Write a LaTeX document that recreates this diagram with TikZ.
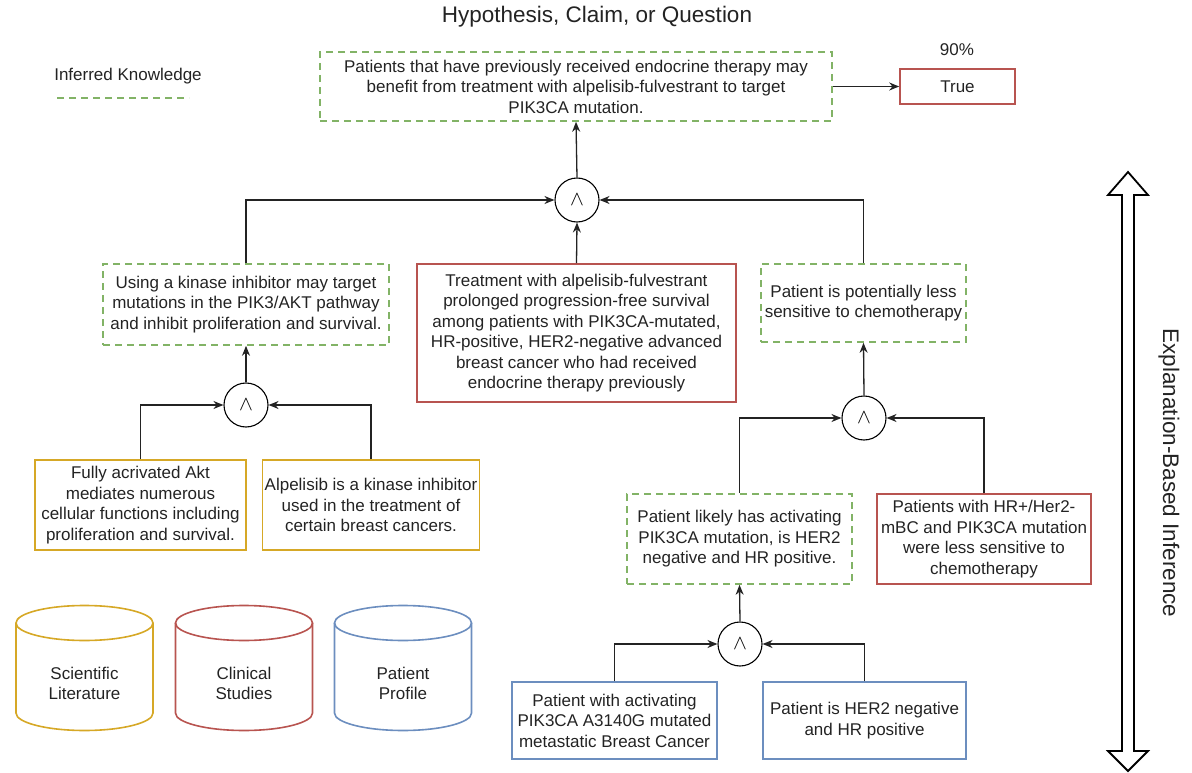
\documentclass[tikz,border=0pt]{standalone}
\usepackage{fontspec}
\setmainfont{Liberation Sans}
\usepackage{tikz}
\usetikzlibrary{arrows.meta}

\definecolor{kgreen}{RGB}{130,179,102}
\definecolor{kred}{RGB}{184,84,80}
\definecolor{kyellow}{RGB}{214,168,38}
\definecolor{kblue}{RGB}{108,142,191}
\definecolor{ktext}{RGB}{35,35,35}

\begin{document}
\begin{tikzpicture}[x=1pt, y=-1pt,
    box/.style={draw, line width=1.6pt, align=center, inner sep=2pt, text=ktext,
        font=\fontsize{17}{20.5}\selectfont},
    inferbox/.style={box, draw=kgreen, dash pattern=on 7pt off 5pt},
    litbox/.style={box, draw=kyellow},
    studybox/.style={box, draw=kred},
    patbox/.style={box, draw=kblue},
    andnode/.style={draw, circle, line width=1.1pt, minimum size=44pt, inner sep=0pt,
        font=\fontsize{20}{24}\selectfont},
    link/.style={line width=1.3pt, draw=ktext, -{Stealth[length=10pt,width=8pt]}},
    plain/.style={text=ktext, font=\fontsize{17}{20.5}\selectfont, align=center}]
    % 参数设置
    \def\rx{68.5} % 圆柱半宽
    \def\ry{17.5} % 圆柱椭圆半高
    \def\ctop{623} % 圆柱顶部
    \def\cbot{713} % 圆柱底部

    % 画布大小
    \useasboundingbox (0,0) rectangle (1192,773);

    % 标题与图例
    \node[text=ktext, font=\fontsize{22.5}{27}\selectfont] (title) at (597,17) {Hypothesis, Claim, or Question};
    \node[plain] (legend) at (128,76) {Inferred Knowledge};
    \draw[kgreen, line width=1.6pt, dash pattern=on 7pt off 5pt] (57,98) -- (189,98);

    % 假设与结论
    \node[inferbox, minimum width=512pt, minimum height=69pt] (claim) at (576,86.5)
        {Patients that have previously received endocrine therapy may\\benefit from treatment with alpelisib-fulvestrant to target\\PIK3CA mutation.};
    \node[studybox, minimum width=115pt, minimum height=35pt] (verdict) at (957.5,86.5) {True};
    \node[plain] (score) at (957,50) {90\%};

    % 第一层
    \node[andnode] (andtop) at (577,200) {$\wedge$};
    \node[inferbox, minimum width=286pt, minimum height=81pt] (kinase) at (246,304.5)
        {Using a kinase inhibitor may target\\mutations in the PIK3/AKT pathway\\and inhibit proliferation and survival.};
    \node[studybox, minimum width=319pt, minimum height=138pt] (trial) at (576.5,333)
        {Treatment with alpelisib-fulvestrant\\prolonged progression-free survival\\among patients with PIK3CA-mutated,\\HR-positive, HER2-negative advanced\\breast cancer who had received\\endocrine therapy previously};
    \node[inferbox, minimum width=205pt, minimum height=78pt] (chemo) at (863.5,303)
        {Patient is potentially less\\sensitive to chemotherapy};

    % 左侧文献
    \node[andnode] (andleft) at (246,405) {$\wedge$};
    \node[litbox, minimum width=211pt, minimum height=90pt] (akt) at (140.5,505)
        {Fully acrivated Akt\\mediates numerous\\cellular functions including\\proliferation and survival.};
    \node[litbox, minimum width=216pt, minimum height=90pt] (alpelisib) at (371,505)
        {Alpelisib is a kinase inhibitor\\used in the treatment of\\certain breast cancers.};

    % 右侧推理
    \node[andnode] (andright) at (864,418) {$\wedge$};
    \node[inferbox, minimum width=225pt, minimum height=90pt] (likely) at (739.5,539)
        {Patient likely has activating\\PIK3CA mutation, is HER2\\negative and HR positive.};
    \node[studybox, minimum width=214pt, minimum height=90pt] (mbc) at (984,539)
        {Patients with HR+/Her2-\\mBC and PIK3CA mutation\\were less sensitive to\\chemotherapy};

    % 患者资料
    \node[andnode] (andlow) at (740,644) {$\wedge$};
    \node[patbox, minimum width=205pt, minimum height=77pt] (mutated) at (614.5,720.5)
        {Patient with activating\\PIK3CA A3140G mutated\\metastatic Breast Cancer};
    \node[patbox, minimum width=203pt, minimum height=77pt] (hrpos) at (864.5,720.5)
        {Patient is HER2 negative\\and HR positive};

    % 连线
    \draw[link] (claim.east) -- (verdict.west);
    \draw[link] (andtop.north) -- (claim.south);
    \draw[link] (kinase.north) |- (andtop.west);
    \draw[link] (trial.north) -- (andtop.south);
    \draw[link] (chemo.north) |- (andtop.east);
    \draw[link] (andleft.north) -- (kinase.south);
    \draw[link] (akt.north) |- (andleft.west);
    \draw[link] (alpelisib.north) |- (andleft.east);
    \draw[link] (andright.north) -- (chemo.south);
    \draw[link] (likely.north) |- (andright.west);
    \draw[link] (mbc.north) |- (andright.east);
    \draw[link] (andlow.north) -- (likely.south);
    \draw[link] (mutated.north) |- (andlow.west);
    \draw[link] (hrpos.north) |- (andlow.east);

    % 数据来源（圆柱）
    \draw[kyellow, line width=1.6pt] (84.5,\ctop) ellipse [x radius=\rx pt, y radius=\ry pt];
    \draw[kyellow, line width=1.6pt] (16,\ctop) -- (16,\cbot) arc[start angle=180, end angle=360, x radius=\rx pt, y radius=\ry pt] -- (153,\ctop);
    \node[plain] (literature) at (84.5,683.5) {Scientific\\Literature};

    \draw[kred, line width=1.6pt] (244,\ctop) ellipse [x radius=\rx pt, y radius=\ry pt];
    \draw[kred, line width=1.6pt] (175.5,\ctop) -- (175.5,\cbot) arc[start angle=180, end angle=360, x radius=\rx pt, y radius=\ry pt] -- (312.5,\ctop);
    \node[plain] (studies) at (244,683.5) {Clinical\\Studies};

    \draw[kblue, line width=1.6pt] (403,\ctop) ellipse [x radius=\rx pt, y radius=\ry pt];
    \draw[kblue, line width=1.6pt] (334.5,\ctop) -- (334.5,\cbot) arc[start angle=180, end angle=360, x radius=\rx pt, y radius=\ry pt] -- (471.5,\ctop);
    \node[plain] (profile) at (403,683.5) {Patient\\Profile};

    % 双向大箭头
    \draw[line width=1.8pt, line join=miter] (1128,172) -- (1148,195) -- (1134,195) -- (1134,751) -- (1148,751)
        -- (1128,771) -- (1108,751) -- (1122,751) -- (1122,195) -- (1108,195) -- cycle;
    \node[text=ktext, font=\fontsize{22.5}{27}\selectfont, rotate=-90] (direction) at (1169,473) {Explanation-Based Inference};
\end{tikzpicture}
\end{document}
